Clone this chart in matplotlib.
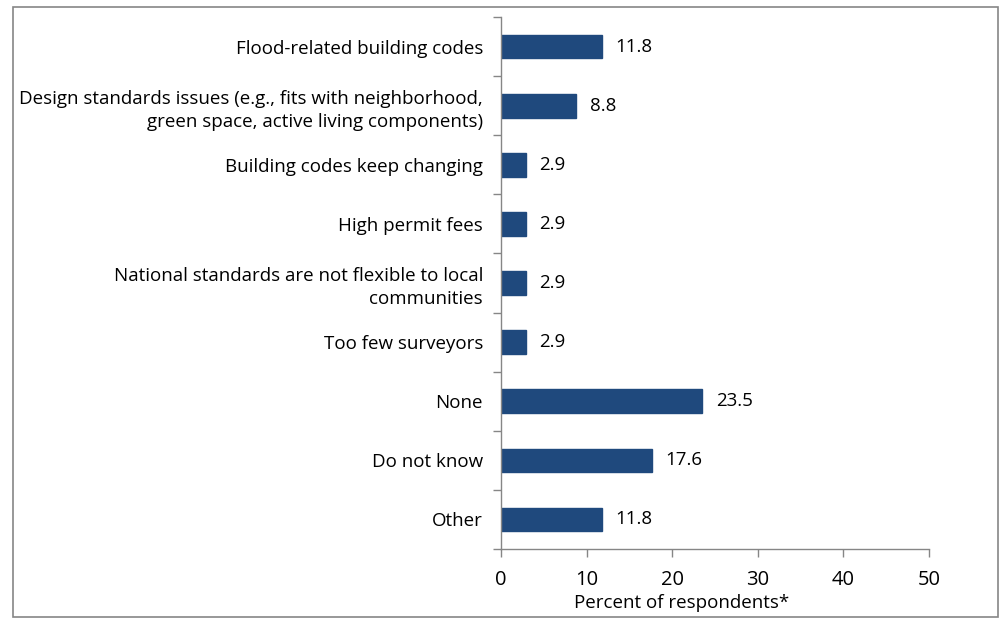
import matplotlib
matplotlib.use("Agg")
import matplotlib.pyplot as plt
from matplotlib.patches import Rectangle

categories = [
    "Flood-related building codes",
    "Design standards issues (e.g., fits with neighborhood,\ngreen space, active living components)",
    "Building codes keep changing",
    "High permit fees",
    "National standards are not flexible to local\ncommunities",
    "Too few surveyors",
    "None",
    "Do not know",
    "Other",
]
values = [11.8, 8.8, 2.9, 2.9, 2.9, 2.9, 23.5, 17.6, 11.8]
xticks = [0, 10, 20, 30, 40, 50]

plt.rcParams['font.family'] = ['Open Sans', 'DejaVu Sans']

fig = plt.figure(figsize=(10.03, 6.19), dpi=100)
ax = fig.add_axes([0.4995, 0.113, 0.4265, 0.8595])

n = len(categories)
ypos = list(range(n))
ax.barh(ypos, values, height=0.4, color="#1f497d", edgecolor="#1f497d")
for y, v in zip(ypos, values):
    ax.text(v + 1.6, y, f"{v}", va="center", ha="left", fontsize=13.5, color="black")

ax.set_ylim(n - 0.5, -0.5)
ax.set_xlim(0, 50)
ax.set_xticks(xticks)
ax.set_xticklabels([str(t) for t in xticks], fontsize=14.5)
ax.set_yticks(ypos)
ax.set_yticklabels(categories, fontsize=13.5, ha="right", multialignment="right",
                   linespacing=1.35)
ax.tick_params(axis="y", length=0, pad=13)
# ticks at category boundaries
ax.set_yticks([i - 0.5 for i in range(n + 1)], minor=True)
ax.tick_params(axis="y", which="minor", length=6, color="#868686", width=1)
ax.tick_params(axis="x", length=6, color="#868686", width=1, pad=9)
ax.set_xlabel("Percent of respondents*", fontsize=13.5, labelpad=0)
ax.xaxis.set_label_coords(0.423, -0.085)

for s in ["top", "right"]:
    ax.spines[s].set_visible(False)
for s in ["left", "bottom"]:
    ax.spines[s].set_color("#868686")
    ax.spines[s].set_linewidth(1)

fig.patches.append(Rectangle((0.013, 0.004), 0.982, 0.985, transform=fig.transFigure,
                             fill=False, edgecolor="#868686", linewidth=1.2))

fig.savefig("out.png", dpi=100)
